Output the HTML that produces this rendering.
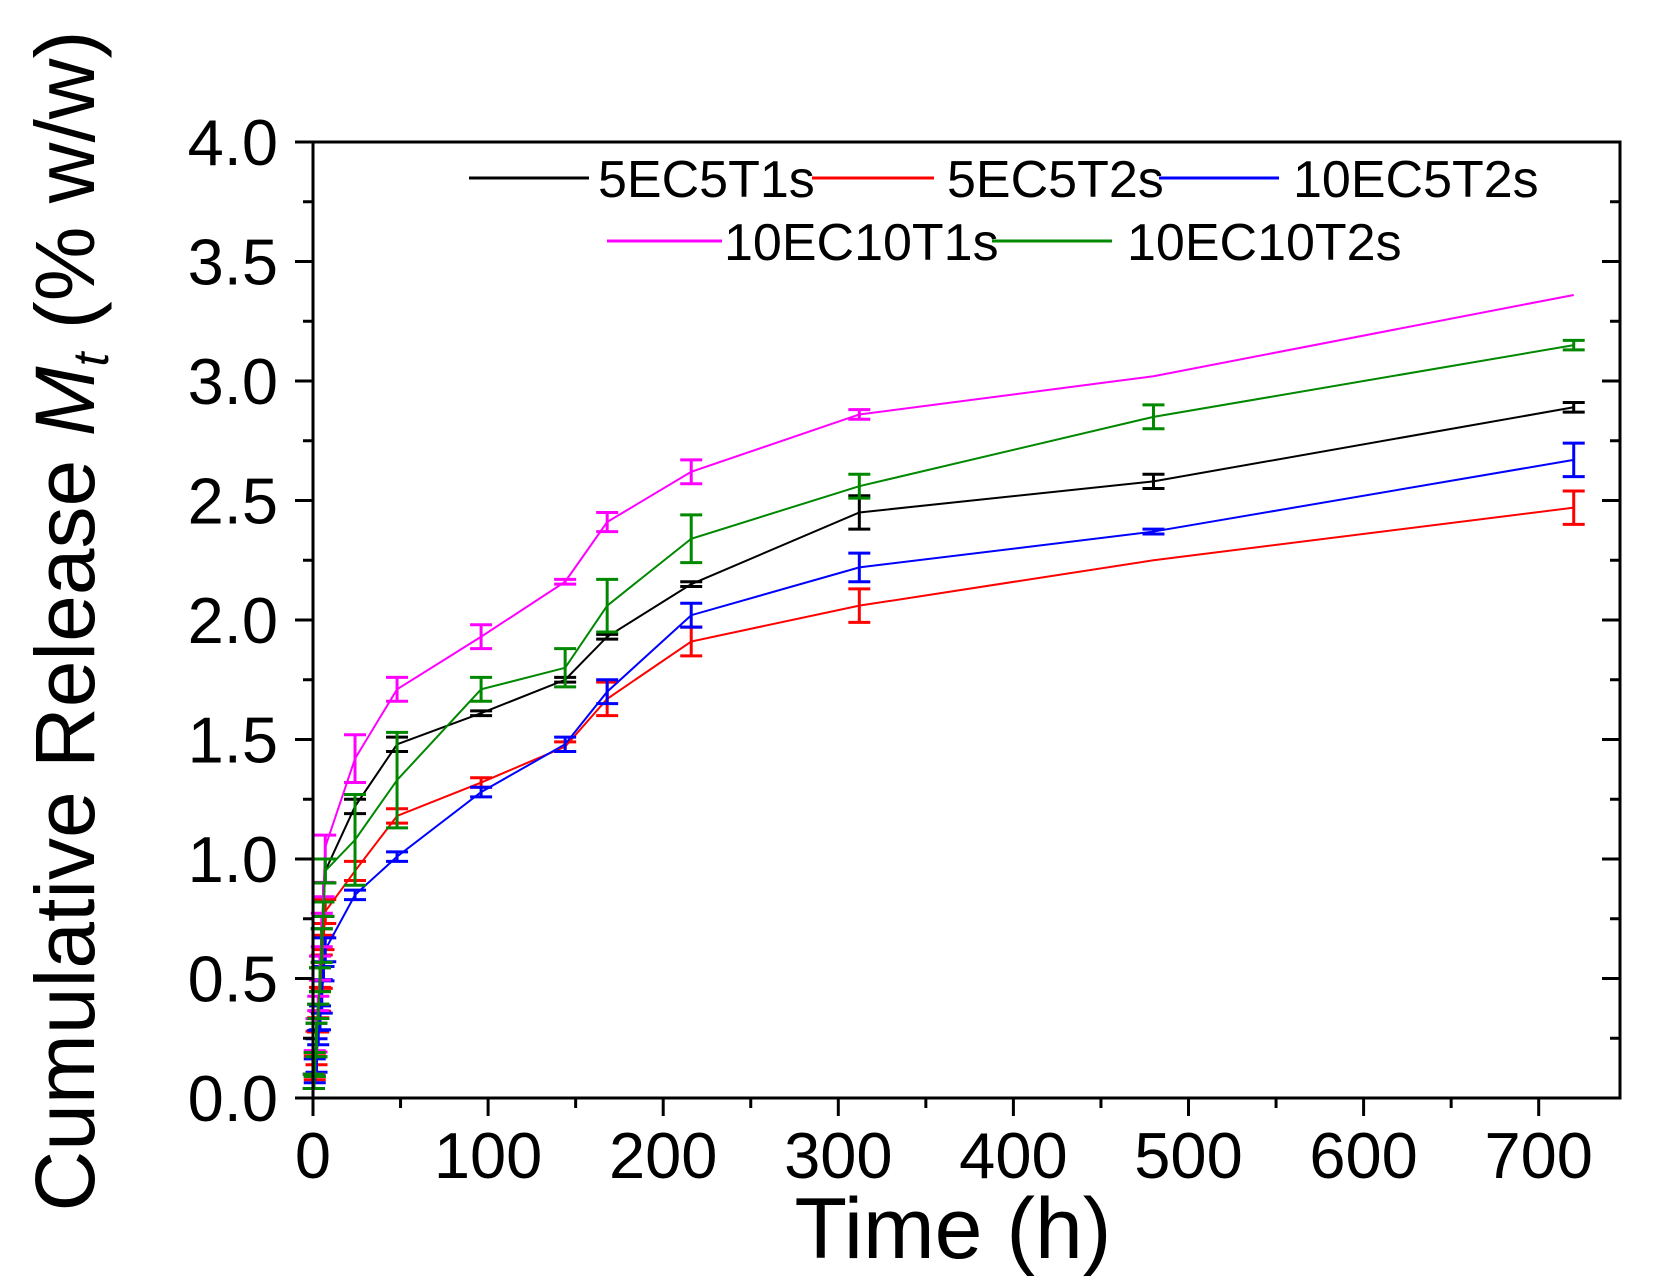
<!DOCTYPE html>
<html><head><meta charset="utf-8"><style>
html,body{margin:0;padding:0;background:#fff;}
svg{display:block;font-family:"Liberation Sans",Arial,sans-serif;}
</style></head><body>
<svg id="s" width="1656" height="1288" viewBox="0 0 1656 1288" xmlns="http://www.w3.org/2000/svg">
<rect width="1656" height="1288" fill="#fff"/>
<g id="plot"></g>
<rect x="313" y="142" width="1307" height="956" fill="none" stroke="#000" stroke-width="3"/>
<g id="ticks" stroke="#000" stroke-width="3"></g>
<g id="labels" font-size="65" fill="#000"></g>
<text x="953" y="1258" font-size="86" text-anchor="middle">Time (h)</text>
<text transform="translate(94,621) rotate(-90)" font-size="84" text-anchor="middle">Cumulative Release <tspan font-style="italic">M</tspan><tspan font-style="italic" font-size="50" dy="14">t</tspan><tspan dy="-14"> (% w/w)</tspan></text>
<g font-size="52" fill="#000" stroke-width="3">
<line x1="469" y1="178" x2="589" y2="178" stroke="#000"/><text x="598" y="197">5EC5T1s</text>
<line x1="812" y1="178" x2="934" y2="178" stroke="#f00"/><text x="947" y="197">5EC5T2s</text>
<line x1="1159" y1="178" x2="1279" y2="178" stroke="#00f"/><text x="1293" y="197">10EC5T2s</text>
<line x1="607" y1="241" x2="722" y2="241" stroke="#f0f"/><text x="724" y="260">10EC10T1s</text>
<line x1="992" y1="241" x2="1112" y2="241" stroke="#080"/><text x="1127" y="260">10EC10T2s</text>
</g>
</svg>
<script>
var NS="http://www.w3.org/2000/svg";
function X(t){return 313+1.751*t;}
function Y(v){return 1098-239*v;}
function el(p,n,a){var e=document.createElementNS(NS,n);for(var k in a)e.setAttribute(k,a[k]);p.appendChild(e);return e;}
var tk=document.getElementById('ticks'),lb=document.getElementById('labels');
for(var v=0;v<=4.001;v+=0.25){var y=Y(v),maj=Math.abs(v*2-Math.round(v*2))<1e-6;
 el(tk,'line',{x1:maj?295:303,y1:y,x2:313,y2:y});
 el(tk,'line',{x1:1620,y1:y,x2:maj?1602:1610,y2:y});
 if(maj){var t=el(lb,'text',{x:278,y:y+23,'text-anchor':'end'});t.textContent=v.toFixed(1);}}
for(var t=0;t<=740;t+=50){var x=X(t),maj=t%100==0;
 el(tk,'line',{x1:x,y1:1098,x2:x,y2:maj?1116:1108});
 if(maj&&t<=700){var q=el(lb,'text',{x:x,y:1178,'text-anchor':'middle'});q.textContent=t;}}
var T=[24,48,96,144,168,216,312,480,720];
var S=[
 {c:'#000',e0:0.95,v:[1.22,1.48,1.61,1.75,1.93,2.15,2.45,2.58,2.89],e:[0.03,0.03,0.01,0.01,0.01,0.01,0.07,0.03,0.02]},
 {c:'#f00',e0:0.78,v:[0.95,1.18,1.32,1.47,1.67,1.91,2.06,2.25,2.47],e:[0.04,0.03,0.02,0.02,0.07,0.06,0.07,0,0.07]},
 {c:'#00f',e0:0.62,v:[0.85,1.01,1.28,1.48,1.70,2.02,2.22,2.37,2.67],e:[0.02,0.02,0.02,0.03,0.05,0.05,0.06,0.01,0.07]},
 {c:'#f0f',e0:1.05,v:[1.42,1.71,1.93,2.16,2.41,2.62,2.86,3.02,3.36],e:[0.10,0.05,0.05,0.01,0.04,0.05,0.02,0,0]},
 {c:'#080',e0:0.95,v:[1.08,1.33,1.71,1.80,2.06,2.34,2.56,2.85,3.15],e:[0.19,0.20,0.05,0.08,0.11,0.10,0.05,0.05,0.02]}];
var P=document.getElementById('plot');
var early=[0.5,1,2,3,4,5,6,7];
S.forEach(function(s,si){
 var pts=[],err=[];
 early.forEach(function(t,i){var f=i/(early.length-1);var v=0.07+(s.e0-0.07)*Math.pow(f,1.3);pts.push([t,v]);err.push(0.03+0.02*(i%3));});
 T.forEach(function(t,i){pts.push([t,s.v[i]]);err.push(s.e[i]);});
 el(P,'polyline',{points:pts.map(function(p){return X(p[0])+','+Y(p[1]);}).join(' '),fill:'none',stroke:s.c,'stroke-width':2});
 pts.forEach(function(p,i){var e=err[i];if(e<=0)return;var x=X(p[0]),y1=Y(p[1]+e),y2=Y(p[1]-e);
  el(P,'line',{x1:x,y1:y1,x2:x,y2:y2,stroke:s.c,'stroke-width':3});
  el(P,'line',{x1:x-11,y1:y1,x2:x+11,y2:y1,stroke:s.c,'stroke-width':3});
  el(P,'line',{x1:x-11,y1:y2,x2:x+11,y2:y2,stroke:s.c,'stroke-width':3});});
});
</script>
</body></html>
